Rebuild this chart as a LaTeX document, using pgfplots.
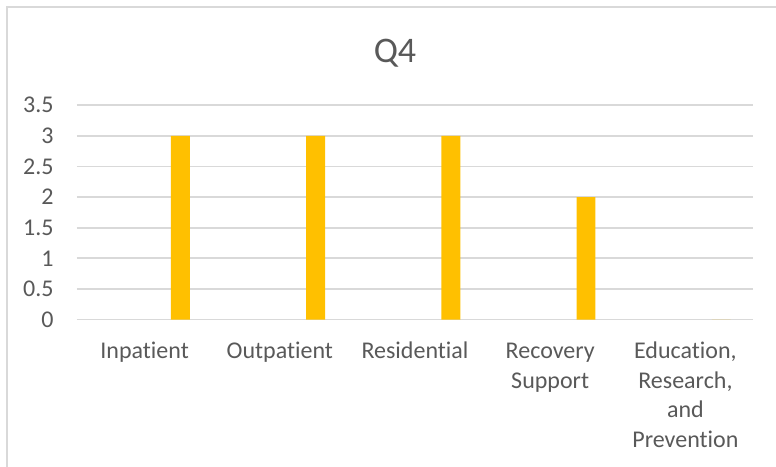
\documentclass[border=0pt]{standalone}
\usepackage{pgfplots}
\pgfplotsset{compat=1.18}
\usepackage{fontspec}
\setmainfont{Carlito}[Ligatures=NoCommon]
\definecolor{barc}{HTML}{FFC000}
\definecolor{gridc}{HTML}{D9D9D9}
\definecolor{txtc}{HTML}{595959}
\begin{document}
\begin{tikzpicture}
\path[use as bounding box] (0,0) rectangle (388pt,-233pt);
\begin{scope}
\clip (0,0) rectangle (388pt,-233pt);
\draw[gridc, line width=1.1pt] (3.3pt,-240pt) -- (3.3pt,-3.3pt) -- (400pt,-3.3pt);
\end{scope}
\begin{axis}[
  at={(38.5pt,-159.75pt)}, anchor=south west,
  scale only axis, width=338pt, height=107.1pt,
  xmin=-0.5, xmax=4.5, ymin=0, ymax=3.5,
  ytick={0,0.5,...,3.5},
  xtick={0,1,2,3,4},
  xticklabels={\strut Inpatient,\strut Outpatient,\strut Residential,{\strut Recovery\\Support},{\strut Education,\\Research,\\and\\Prevention}},
  axis x line*=bottom, axis y line*=left,
  x axis line style={gridc, line width=0.9pt, -},
  y axis line style={draw=none},
  ymajorgrids, grid style={gridc, line width=0.9pt},
  major tick length=0pt,
  tick label style={font=\fontsize{12}{14.75}\selectfont, text=txtc},
  yticklabel style={anchor=east, inner sep=0pt, xshift=-11.5pt,
    /pgf/number format/fixed, /pgf/number format/assume math mode=true},
  xticklabel style={anchor=north, align=center, inner sep=0pt, yshift=-9.2pt},
  ytick style={draw=none}, xtick style={draw=none},
  title={Q4},
  title style={font=\fontsize{18}{22}\selectfont, text=txtc, anchor=center, at={(0.5,1)}, xshift=-10pt, yshift=20pt},
  clip=false,
]
\addplot[ybar, bar width=0.14, bar shift=0.265, fill=barc, draw=none] coordinates {
  (0,3) (1,3) (2,3) (3,2) (4,0)
};
\end{axis}
\end{tikzpicture}
\end{document}
